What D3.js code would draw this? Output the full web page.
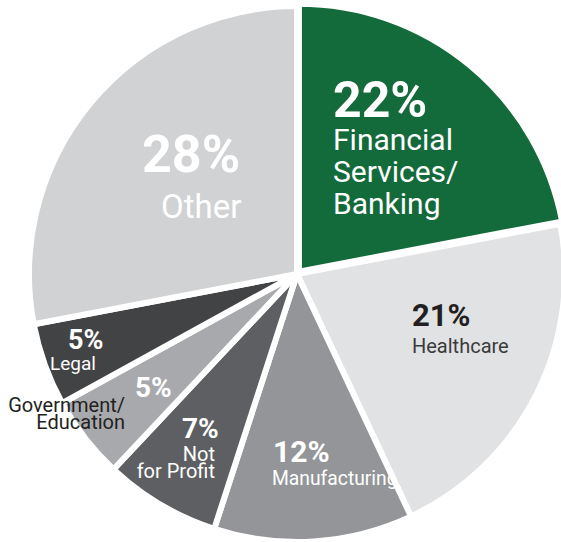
<!DOCTYPE html>
<html>
<head>
<meta charset="utf-8">
<script src="https://cdn.jsdelivr.net/npm/d3@7"></script>
<style>
  html, body { margin: 0; padding: 0; background: #ffffff; }
  svg { display: block; }
  text { font-family: Roboto, "Noto Sans", sans-serif; }
</style>
</head>
<body>
<svg id="chart" width="561" height="542"></svg>
<script>
// ---- data ----
const categories = ["Financial Services/Banking", "Healthcare", "Manufacturing", "Not for Profit", "Government/Education", "Legal", "Other"];
const values = [22, 21, 12, 7, 5, 5, 28];
const pctLabels = ["22%", "21%", "12%", "7%", "5%", "5%", "28%"];
const nameLines = [["Financial", "Services/", "Banking"], ["Healthcare"], ["Manufacturing"], ["Not", "for Profit"], ["Government/", "Education"], ["Legal"], ["Other"]];

// ---- styling / layout (not data) ----
const colors = ["#136a3a", "#e1e2e3", "#939598", "#5e5f62", "#a7a9ac", "#424345", "#d1d2d4"];
const cx = 297, cy = 274, R = 268, gap = 6, explode = [3, 0, 0, 0, 0, 0, 0];
const labelLayout = [
  { px: 333, py: 117, ps: 50, pc: "#fff", nx: 333, ny: 150, lh: 32, ns: 30, na: "start", nc: "#fff" },
  { px: 412, py: 326, ps: 31, pc: "#231f20", nx: 412, ny: 353, lh: 20, ns: 20, na: "start", nc: "#3b3b3b" },
  { px: 273, py: 462, ps: 30, pc: "#fff", nx: 272, ny: 485, lh: 20, ns: 19.3, na: "start", nc: "#fff", clip: true },
  { px: 182, py: 438, ps: 28, pc: "#fff", nx: 215, ny: 461, lh: 17, ns: 20, na: "end", nc: "#fff" },
  { px: 135, py: 397, ps: 28, pc: "#fff", nx: 125, ny: 412, lh: 17, ns: 20, na: "end", nc: "#231f20" },
  { px: 68, py: 349, ps: 27, pc: "#fff", nx: 50, ny: 370, lh: 17, ns: 19, na: "start", nc: "#fff" },
  { px: 142, py: 172, ps: 52, pc: "#fff", nx: 161, ny: 218, lh: 30, ns: 33, na: "start", nc: "#fff" }
];

const svg = d3.select("#chart");
const g = svg.append("g").attr("transform", `translate(${cx},${cy})`);

const pie = d3.pie().sort(null).value(d => d.value);
const arcs = pie(categories.map((c, i) => ({ cat: c, value: values[i], i })));
const arc = d3.arc().innerRadius(0).outerRadius(R);
const clipArc = d3.arc().innerRadius(0).outerRadius(R - gap / 2).padAngle(gap / R).padRadius(R);

g.selectAll("path.slice").data(arcs).enter().append("path")
  .attr("class", "slice")
  .attr("d", arc)
  .attr("fill", d => colors[d.data.i])
  .attr("stroke", "#ffffff")
  .attr("stroke-width", gap)
  .attr("stroke-linejoin", "miter")
  .attr("transform", d => {
    const e = explode[d.data.i];
    const a = (d.startAngle + d.endAngle) / 2;
    return `translate(${e * Math.sin(a)},${-e * Math.cos(a)})`;
  });

// clip paths (visible slice shape)
const defs = svg.append("defs");
arcs.forEach(d => {
  defs.append("clipPath").attr("id", "clip" + d.data.i)
    .append("path").attr("d", clipArc(d)).attr("transform", `translate(${cx},${cy})`);
});

const labels = svg.append("g");
arcs.forEach(d => {
  const i = d.data.i, L = labelLayout[i];
  const lg = labels.append("g");
  if (L.clip) lg.attr("clip-path", `url(#clip${i})`);
  lg.append("text")
    .attr("x", L.px).attr("y", L.py)
    .attr("font-size", L.ps).attr("font-weight", 700)
    .attr("fill", L.pc)
    .text(pctLabels[i]);
  nameLines[i].forEach((line, k) => {
    lg.append("text")
      .attr("x", L.nx).attr("y", L.ny + k * L.lh)
      .attr("font-size", L.ns).attr("font-weight", 400)
      .attr("text-anchor", L.na)
      .attr("fill", L.nc)
      .text(line);
  });
});
</script>
</body>
</html>
